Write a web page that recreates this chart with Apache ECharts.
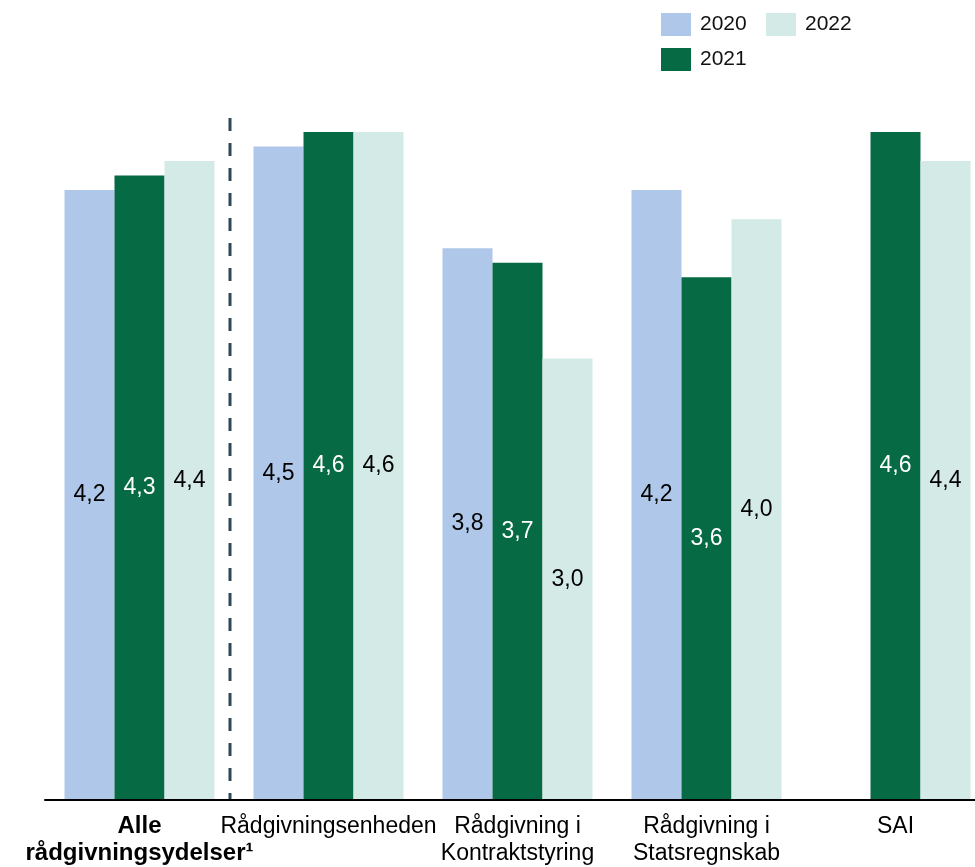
<!DOCTYPE html>
<html>
<head>
<meta charset="utf-8">
<script src="https://cdn.jsdelivr.net/npm/echarts@6/dist/echarts.min.js"></script>
<style>
  html, body { margin: 0; padding: 0; background: #fff; overflow: hidden; }
  #main { width: 990px; height: 867px; }
</style>
</head>
<body>
<div id="main"></div>
<script>
var categories = ['Alle\nrådgivningsydelser¹', 'Rådgivningsenheden', 'Rådgivning i\nKontraktstyring', 'Rådgivning i\nStatsregnskab', 'SAI'];
var years = ['2020', '2021', '2022'];
var values2020 = [4.2, 4.5, 3.8, 4.2, null];
var values2021 = [4.3, 4.6, 3.7, 3.6, 4.6];
var values2022 = [4.4, 4.6, 3.04, 4.0, 4.4];

(function(){
    var myChart = echarts.init(document.getElementById('main'));
    var font = 'Liberation Sans, Arial, sans-serif';
    var colors = ['#AFC8E9', '#066B45', '#D4EAE7'];
    var labelColors = ['#000000', '#ffffff', '#000000'];
    var allData = [values2020, values2021, values2022];

    var xData = categories.map(function (c, i) {
        if (i === 0) {
            return { value: c, textStyle: { fontWeight: 'bold', fontSize: 24 } };
        }
        return c;
    });

    var series = years.map(function (y, i) {
        return {
            name: y,
            type: 'bar',
            barWidth: 50,
            barGap: '0%',
            data: allData[i],
            itemStyle: { color: colors[i] },
            label: {
                show: true,
                position: 'inside',
                color: labelColors[i],
                fontFamily: font,
                fontSize: 23,
                formatter: function (p) {
                    return p.value.toFixed(1).replace('.', ',');
                }
            }
        };
    });

    var legendBase = {
        orient: 'vertical',
        top: 13,
        padding: 0,
        itemWidth: 30,
        itemHeight: 23,
        itemGap: 12,
        icon: 'rect',
        textStyle: { fontSize: 21, color: '#111', fontFamily: font, padding: [0, 0, 0, 4] }
    };

    var option = {
        animation: false,
        color: colors,
        textStyle: { fontFamily: font },
        legend: [
            echarts.util.merge({ left: 661, data: ['2020', '2021'] }, legendBase),
            echarts.util.merge({ left: 766, data: ['2022'] }, legendBase)
        ],
        grid: {
            left: 45,
            top: 132,
            right: 0,
            bottom: 67,
            containLabel: false
        },
        xAxis: {
            type: 'category',
            data: xData,
            z: 5,
            axisTick: { show: false },
            axisLine: { lineStyle: { color: '#000', width: 2 } },
            axisLabel: {
                interval: 0,
                margin: 13,
                color: '#000',
                fontSize: 23,
                lineHeight: 27,
                fontFamily: font
            }
        },
        yAxis: {
            type: 'value',
            min: 0,
            max: 4.6,
            show: false,
            splitLine: { show: false }
        },
        graphic: [
            {
                type: 'line',
                shape: { x1: 230, y1: 118, x2: 230, y2: 799 },
                style: { stroke: '#2F4858', lineWidth: 3, lineDash: [13, 12] }
            }
        ],
        series: series
    };

    myChart.setOption(option);
})();
</script>
</body>
</html>
